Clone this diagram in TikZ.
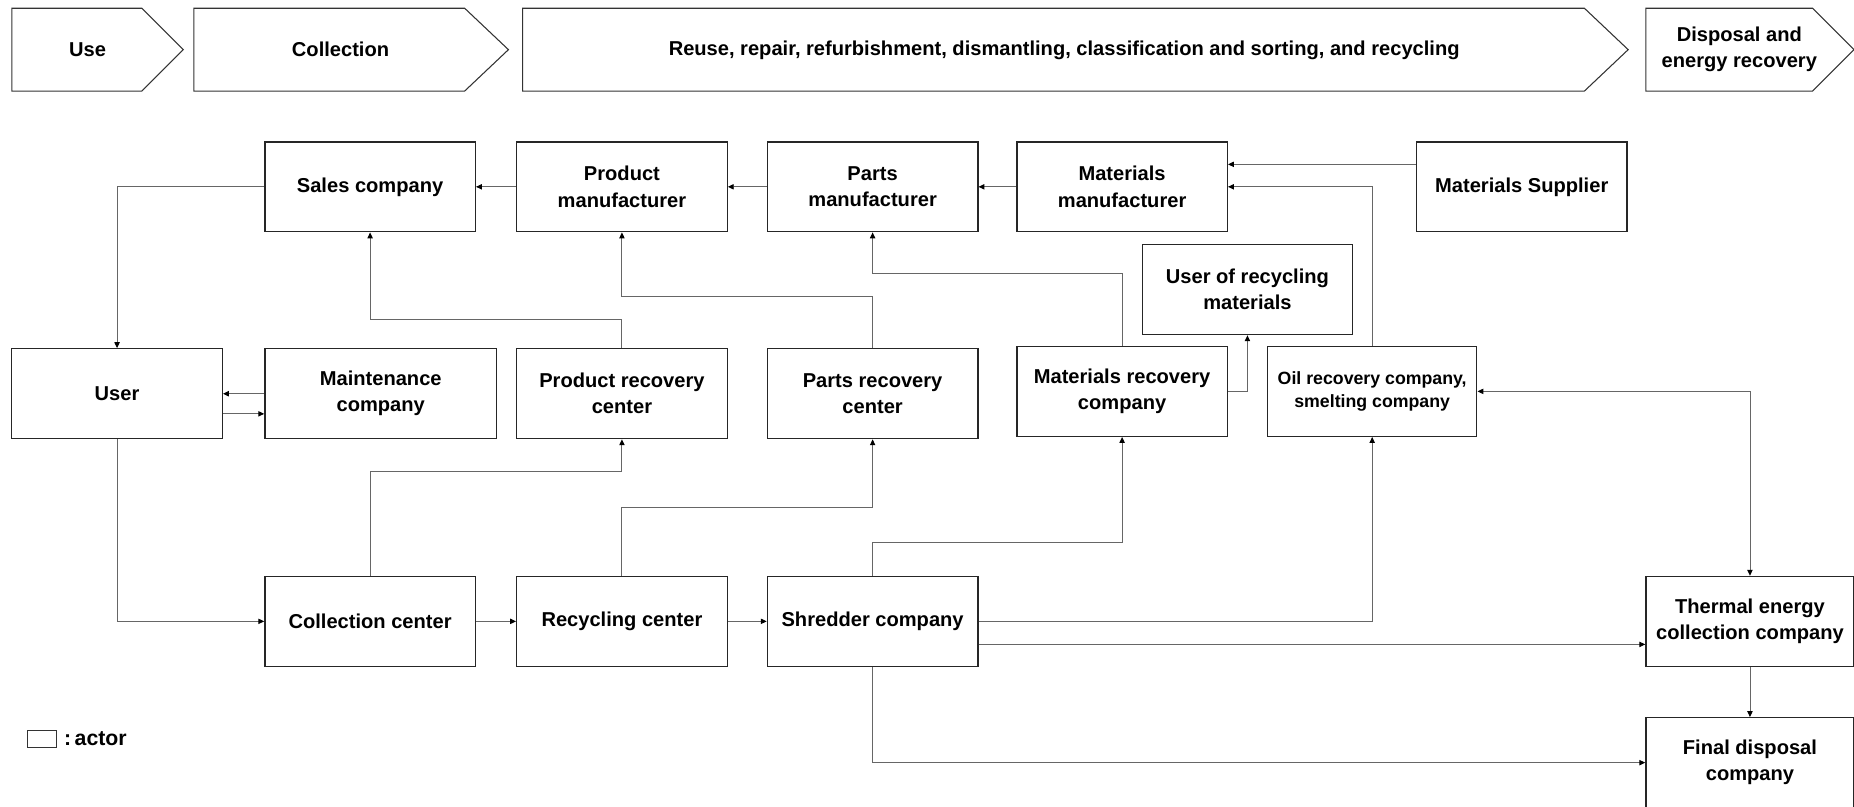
\documentclass[tikz,border=0pt]{standalone}
\usepackage{fontspec}
\setmainfont{Liberation Sans}
\usetikzlibrary{arrows.meta}
\begin{document}
\begin{tikzpicture}[x=1pt,y=-1pt,
  actor/.style={draw=black!85, line width=1.1pt, minimum width=178pt, minimum height=76pt,
    inner sep=0pt, align=center, font=\fontsize{17}{22}\selectfont\bfseries},
  phase/.style={draw=black!80, line width=0.9pt},
  phasetext/.style={align=center, font=\fontsize{17}{22}\selectfont\bfseries},
  conn/.style={draw=black!60, line width=0.8pt},
  arr/.style={conn, -{Triangle[length=5pt,width=4.5pt,color=black]}},
  darr/.style={conn, {Triangle[length=5pt,width=4.5pt,color=black]}-{Triangle[length=5pt,width=4.5pt,color=black]}}
]
\useasboundingbox (0,0) rectangle (1568,682);
% phases
\draw[phase] (10,7) -- (120,7) -- (155,42) -- (120,77) -- (10,77) -- cycle;
\node[phasetext] (ph1) at (74,42) {Use};
\draw[phase] (164,7) -- (393,7) -- (430,42) -- (393,77) -- (164,77) -- cycle;
\node[phasetext] (ph2) at (288,42) {Collection};
\draw[phase] (442,7) -- (1340,7) -- (1377,42) -- (1340,77) -- (442,77) -- cycle;
\node[phasetext] (ph3) at (900,43) {Reuse, repair, refurbishment, dismantling, classification and sorting, and recycling};
\draw[phase] (1392,7) -- (1533,7) -- (1568,42) -- (1533,77) -- (1392,77) -- cycle;
\node[phasetext] (ph4) at (1471,42) {Disposal and\\energy recovery};
% actors
\node[actor] (sales) at (313,158) {Sales company};
\node[actor] (prodman) at (526,158) {Product\\manufacturer};
\node[actor] (partsman) at (738,158) {Parts\\manufacturer};
\node[actor] (matman) at (949,158) {Materials\\manufacturer};
\node[actor] (matsup) at (1287,158) {Materials Supplier};
\node[actor] (userrec) at (1055,245) {User of recycling\\materials};
\node[actor] (user) at (99,333) {User};
\node[actor, minimum width=196pt] (maint) at (322,333) {Maintenance\\company};
\node[actor] (prodrec) at (526,333) {Product recovery\\center};
\node[actor] (partsrec) at (738,333) {Parts recovery\\center};
\node[actor] (matrec) at (949,331) {Materials recovery\\company};
\node[actor, minimum width=177pt, font=\fontsize{15}{20}\selectfont\bfseries] (oil) at (1160.5,331) {Oil recovery company,\\smelting company};
\node[actor] (collc) at (313,525.5) {Collection center};
\node[actor] (recc) at (526,525.5) {Recycling center};
\node[actor] (shred) at (738,525.5) {Shredder company};
\node[actor, minimum width=176pt] (thermal) at (1480,525.5) {Thermal energy\\collection company};
\node[actor, minimum width=176pt, minimum height=84pt] (final) at (1480,649) {};
\node[phasetext] (finaltext) at (1480,645) {Final disposal\\company};
% legend
\node[draw=black!80, line width=0.8pt, minimum width=25pt, minimum height=14pt, inner sep=0pt] (legbox) at (35.5,625) {};
\node[anchor=west, inner sep=0pt, font=\fontsize{18}{21}\selectfont\bfseries] (legtext) at (54,625) {:\,actor};
% connectors
\draw[arr] (prodman.west) -- (sales.east);
\draw[arr] (partsman.west) -- (prodman.east);
\draw[arr] (matman.west) -- (partsman.east);
\draw[arr] (matsup.west |- 0,139) -- (matman.east |- 0,139);
\draw[arr] (oil.north) |- (matman.east);
\draw[arr] (sales.west) -| (user.north);
\draw[arr] (prodrec.north) -- (prodrec.north |- 0,270) -| (sales.south);
\draw[arr] (partsrec.north) -- (partsrec.north |- 0,251) -| (prodman.south);
\draw[arr] (matrec.north) -- (matrec.north |- 0,231) -| (partsman.south);
\draw[arr] (matrec.east) -| (userrec.south);
\draw[arr] (maint.west) -- (maint.west -| user.east);
\draw[arr] (user.east |- 0,350) -- (maint.west |- 0,350);
\draw[arr] (user.south) |- (collc.west);
\draw[arr] (collc.east) -- (recc.west);
\draw[arr] (recc.east) -- (shred.west);
\draw[arr] (collc.north) -- (collc.north |- 0,399) -| (prodrec.south);
\draw[arr] (recc.north) -- (recc.north |- 0,429) -| (partsrec.south);
\draw[arr] (shred.north) -- (shred.north |- 0,459) -| (matrec.south);
\draw[arr] (shred.east) -| (oil.south);
\draw[arr] (shred.east |- 0,545) -- (thermal.west |- 0,545);
\draw[arr] (shred.south) |- (final.west |- 0,645);
\draw[darr] (oil.east) -| (thermal.north);
\draw[arr] (thermal.south) -- (final.north);
\end{tikzpicture}
\end{document}
